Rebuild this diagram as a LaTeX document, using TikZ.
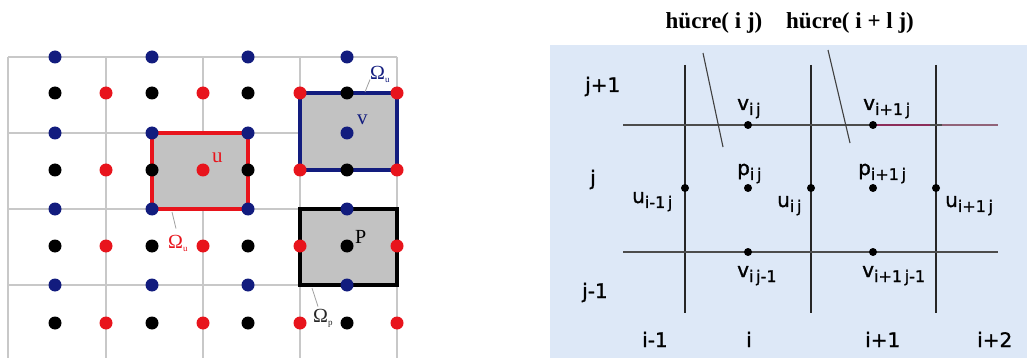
\documentclass[tikz,border=0pt]{standalone}
\usepackage{fontspec}
\setmainfont{Liberation Serif}
\newfontfamily\gridfont[FakeBold=1.3]{DejaVu Sans}
\usepackage{tikz}
\usetikzlibrary{calc, positioning}
\usepackage{xcolor}
\definecolor{stagblue}{HTML}{121C7E}
\definecolor{stagred}{HTML}{E8141C}
\definecolor{staggrid}{HTML}{C8C8C8}
\definecolor{stagfill}{HTML}{C2C2C2}
\definecolor{panelblue}{HTML}{DDE8F7}
\definecolor{panelpink}{HTML}{8C2E5A}

\newcommand{\cellsub}[2]{#1\raisebox{-5pt}{\fontsize{16}{16}\selectfont #2}}
\newcommand{\omsub}[1]{\raisebox{-3pt}{\fontsize{9}{9}\selectfont #1}}

\tikzset{
  udot/.style={circle, fill=stagred, inner sep=0pt, minimum size=13pt},
  vdot/.style={circle, fill=stagblue, inner sep=0pt, minimum size=13pt},
  pdot/.style={circle, fill=black, inner sep=0pt, minimum size=13pt},
  gdot/.style={circle, fill=black, inner sep=0pt, minimum size=8pt},
  cvbox/.style={line width=4.5pt, fill=stagfill},
  glab/.style={font=\gridfont\fontsize{20}{22}\selectfont, inner sep=0pt, anchor=base west},
  omlab/.style={font=\fontsize{20}{20}\selectfont, inner sep=0pt, anchor=base west},
  lead/.style={staggrid!80!black, line width=0.8pt},
  ptr/.style={black!75, line width=1.1pt},
}

\begin{document}
\begin{tikzpicture}[x=1pt, y=-1pt]
  \useasboundingbox (0,0) rectangle (1027,358);

  % staggered grid, left
  \foreach \gx in {8,106,203,300,397}
    \draw[staggrid, line width=1.1pt] (\gx,57) -- (\gx,358);
  \foreach \gy in {57,133,209,285}
    \draw[staggrid, line width=1.1pt] (8,\gy) -- (397,\gy);

  % control volumes
  \draw[cvbox, draw=stagred] (152,133) rectangle (248,209);
  \draw[cvbox, draw=stagblue] (300,93) rectangle (397,170);
  \draw[cvbox, draw=black] (300,209) rectangle (397,285);

  \foreach \x [count=\c] in {55,152,248,347} {
    \foreach \y [count=\r] in {57,133,209,285}
      \node[vdot] (v\c\r) at (\x,\y) {};
    \foreach \y [count=\r] in {93,170,246,323}
      \node[pdot] (p\c\r) at (\x,\y) {};
  }
  \foreach \x [count=\c] in {106,203,300,397}
    \foreach \y [count=\r] in {93,170,246,323}
      \node[udot] (u\c\r) at (\x,\y) {};

  \node[omlab, text=stagred, font=\fontsize{21}{21}\selectfont] (ulab) at ($(u22)+(9,-7)$) {u};
  \node[omlab, text=stagblue, font=\fontsize{21}{21}\selectfont] (vlab) at ($(v42)+(10,-8)$) {v};
  \node[omlab, font=\fontsize{20}{20}\selectfont] (plab) at ($(p43)+(8,-3)$) {P};

  \node[omlab, text=stagred] (omred) at (168,248) {Ω\omsub{u}};
  \node[omlab, text=stagblue] (omblue) at (370,80) {Ω\omsub{u}};
  \node[omlab, text=black!85] (omp) at (313,322) {Ω\omsub{p}};
  \coordinate (cvred) at (172,212);
  \coordinate (cvblue) at (365,92);
  \coordinate (cvp) at (312,288);
  \draw[lead] (cvred) -- ($(omred.north west)+(8,-6)$);
  \draw[lead] (cvblue) -- ($(omblue.north west)+(0,13)$);
  \draw[lead] (cvp) -- ($(omp.north west)+(5,-2)$);

  % MAC cell, right
  \fill[panelblue] (550,45) rectangle (1027,358);
  \node[font=\bfseries\fontsize{23}{23}\selectfont, anchor=base] (cellA) at (714,29) {hücre( i j)};
  \node[font=\bfseries\fontsize{23}{23}\selectfont, anchor=base] (cellB) at (850,29) {hücre( i + l j)};

  \foreach \x in {685,811,936}
    \draw[black!85, line width=1.6pt] (\x,65) -- (\x,313);
  \foreach \y in {125,252}
    \draw[black!70, line width=1.3pt] (623,\y) -- (998,\y);
  \draw[panelpink, line width=1.3pt] (873,125) -- (930,125);
  \draw[panelpink!70!black!70, line width=1.3pt] (942,125) -- (998,125);

  \node[gdot] (vij) at (748,125) {};
  \node[gdot] (vipj) at (873,125) {};
  \node[gdot] (pij) at (748,188) {};
  \node[gdot] (pipj) at (873,188) {};
  \node[gdot] (uimj) at (685,188) {};
  \node[gdot] (uij) at (811,188) {};
  \node[gdot] (uipj) at (936,188) {};
  \node[gdot] (vijm) at (748,252) {};
  \node[gdot] (vipjm) at (873,252) {};

  \coordinate (ptrA0) at (703,53);
  \coordinate (ptrA1) at (723,147);
  \coordinate (ptrB0) at (828,50);
  \coordinate (ptrB1) at (850,143);
  \draw[ptr] (ptrA0) -- (ptrA1);
  \draw[ptr] (ptrB0) -- (ptrB1);

  \node[glab] at (737,110) {\cellsub{v}{i\,j}};
  \node[glab] at (863,110) {\cellsub{v}{i+1\,j}};
  \node[glab] at (737,175) {\cellsub{p}{i\,j}};
  \node[glab] at (858,175) {\cellsub{p}{i+1\,j}};
  \node[glab] at (632,203) {\cellsub{u}{i-1\,j}};
  \node[glab] at (777,207) {\cellsub{u}{i\,j}};
  \node[glab] at (945,207) {\cellsub{u}{i+1\,j}};
  \node[glab] at (737,277) {\cellsub{v}{i\,j-1}};
  \node[glab] at (862,277) {\cellsub{v}{i+1\,j-1}};

  \node[glab] at (585,92) {j+1};
  \node[glab] at (590,185) {j};
  \node[glab] at (582,298) {j-1};
  \node[glab] at (642,347) {i-1};
  \node[glab] at (746,347) {i};
  \node[glab] at (865,347) {i+1};
  \node[glab] at (977,347) {i+2};
\end{tikzpicture}
\end{document}
